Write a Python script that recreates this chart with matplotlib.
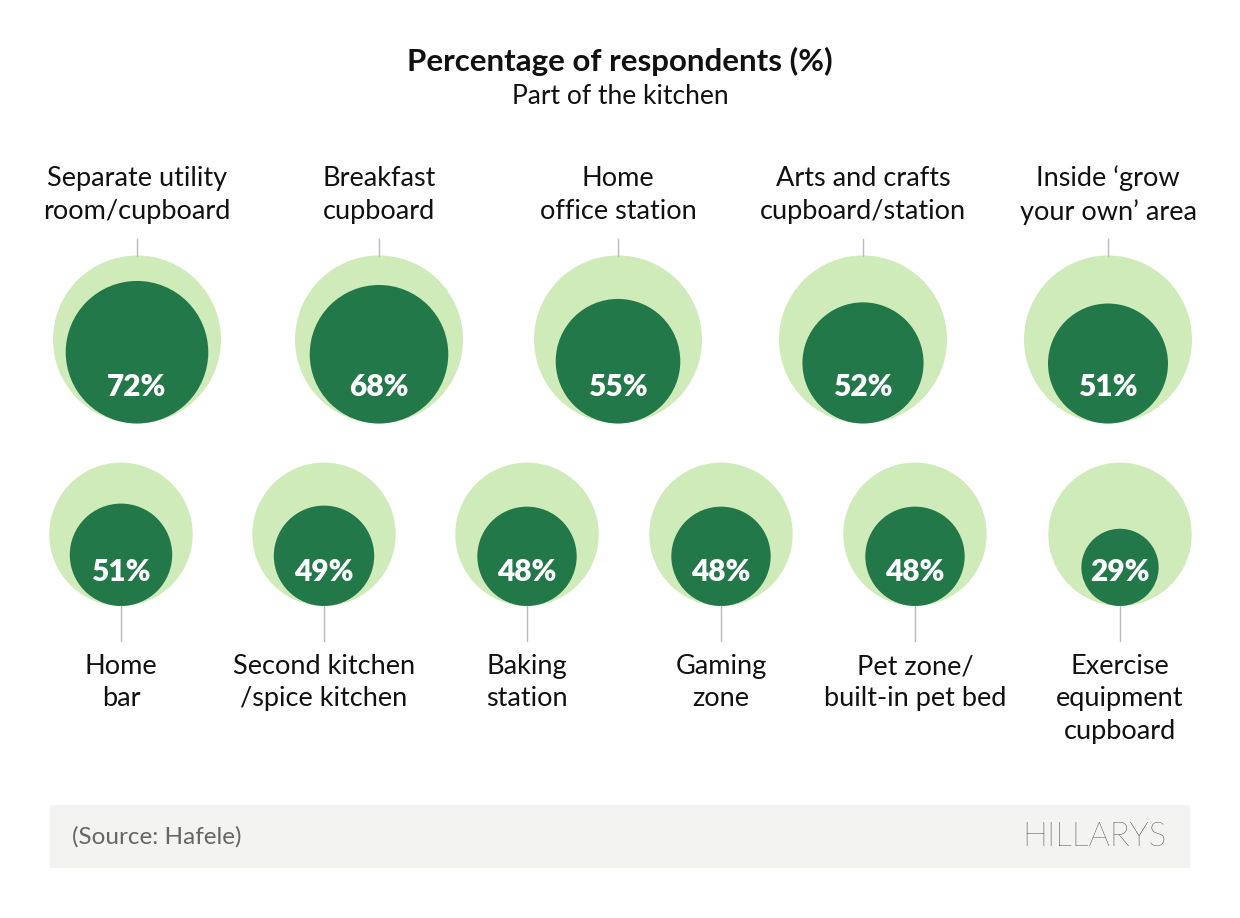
import numpy as np
import matplotlib.pyplot as plt
from matplotlib.patches import Circle, Rectangle

plt.rcParams['font.family'] = ['Lato', 'DejaVu Sans']

# dados
top_labels = ["Separate utility\nroom/cupboard", "Breakfast\ncupboard", "Home\noffice station",
              "Arts and crafts\ncupboard/station", "Inside \u2018grow\nyour own\u2019 area"]
top_values = [72, 68, 55, 52, 51]
bottom_labels = ["Home\nbar", "Second kitchen\n/spice kitchen", "Baking\nstation", "Gaming\nzone",
                 "Pet zone/\nbuilt-in pet bed", "Exercise\nequipment\ncupboard"]
bottom_values = [51, 49, 48, 48, 48, 29]

light = "#cfebb9"
dark = "#23784a"

top_x = [137, 379, 618, 863, 1108]
bot_x = [121, 324, 527, 721, 915, 1120]

fig = plt.figure(figsize=(12.4, 9.18), dpi=100)
ax = fig.add_axes([0, 0, 1, 1])
ax.set_xlim(0, 1240)
ax.set_ylim(918, 0)
ax.axis("off")

ax.text(620, 61, "Percentage of respondents (%)", ha="center", va="center",
        fontsize=22.5, fontweight="bold", color="#111111")
ax.text(620, 96, "Part of the kitchen", ha="center", va="center",
        fontsize=19, color="#111111")

# linha de cima
R1 = 84
cy1 = 339.5
for x, v, lab in zip(top_x, top_values, top_labels):
    r = R1 * np.sqrt(v / 100)
    ax.add_patch(Circle((x, cy1), R1, color=light, lw=0))
    ax.add_patch(Circle((x, cy1 + R1 - r), r, color=dark, lw=0))
    ax.plot([x, x], [239, cy1 - R1], color="#bbbbbb", lw=1)
    ax.text(x, 387, f"{v}%", ha="center", va="center", color="white",
            fontsize=21.5, fontweight="heavy")
    ax.text(x, 195, lab, ha="center", va="center", fontsize=19.5, color="#111111",
            linespacing=1.37)

# linha de baixo
R2 = 71.7
cy2 = 534.3
for x, v, lab in zip(bot_x, bottom_values, bottom_labels):
    r = R2 * np.sqrt(v / 100)
    ax.add_patch(Circle((x, cy2), R2, color=light, lw=0))
    ax.add_patch(Circle((x, cy2 + R2 - r), r, color=dark, lw=0))
    ax.plot([x, x], [cy2 + R2, 641], color="#bbbbbb", lw=1)
    ax.text(x, 572, f"{v}%", ha="center", va="center", color="white",
            fontsize=21.5, fontweight="heavy")
    ax.text(x, 654, lab, ha="center", va="top", fontsize=19.5, color="#111111",
            linespacing=1.37)

# rodape
ax.add_patch(Rectangle((50, 805), 1140, 63, color="#f3f3f1", lw=0))
ax.text(72, 837, "(Source: Hafele)", ha="left", va="center", fontsize=17.5, color="#666666")
ax.text(1166, 837, "HILLARYS", ha="right", va="center", fontsize=24, color="#111111",
        fontweight="light")

fig.savefig("out.png", dpi=100)
